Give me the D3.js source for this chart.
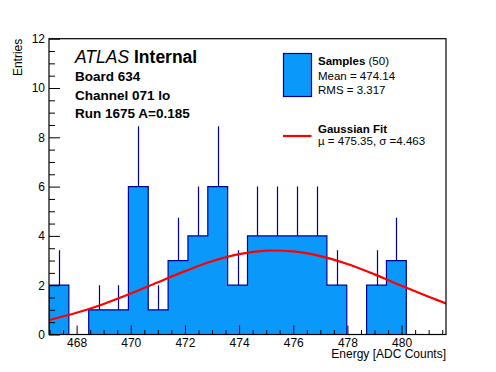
<!DOCTYPE html>
<html>
<head>
<meta charset="utf-8">
<script src="https://d3js.org/d3.v7.min.js"></script>
<style>
  body { margin: 0; background: #fff; }
  svg { display: block; font-family: "Liberation Sans", Arial, sans-serif; }
</style>
</head>
<body>
<svg width="496" height="372"></svg>
<script>
// histogram: 20 bins between xMin and xMax
var xMin = 466.98;
var xMax = 481.64;
var counts = [2, 0, 1, 1, 6, 1, 3, 4, 6, 2, 4, 4, 4, 4, 2, 0, 2, 3, 0, 0];

// gaussian fit
var fitX = [467, 468, 469, 470, 471, 472, 473, 474, 475, 476, 477, 478, 479, 480, 481, 481.64];
var fitY = [0.59, 0.88, 1.24, 1.66, 2.12, 2.57, 2.97, 3.26, 3.40, 3.37, 3.18, 2.86, 2.44, 1.98, 1.53, 1.26];

var xMajor = [468, 470, 472, 474, 476, 478, 480];
var yMajor = [0, 2, 4, 6, 8, 10, 12];

var infoLines = ["Board 634", "Channel 071 lo", "Run 1675 A=0.185"];

var fillCol = "#0a99fb";
var lineCol = "#000099";

var svg = d3.select("svg");

// frame edges (note: "top" is reserved on window)
var fLeft = 49, fRight = 446, fTop = 38.7, fBottom = 334.5;

var x = d3.scaleLinear().domain([xMin, xMax]).range([fLeft, fRight]);
var y = d3.scaleLinear().domain([0, 12]).range([fBottom, fTop]);

var binW = (xMax - xMin) / counts.length;
var bins = counts.map(function(c, i) {
  return {lo: xMin + i * binW, hi: xMin + (i + 1) * binW, n: c};
});

svg.append("rect").attr("width", 496).attr("height", 372).attr("fill", "#fff");

svg.append("clipPath").attr("id", "frameClip")
  .append("rect")
  .attr("x", fLeft).attr("y", fTop)
  .attr("width", fRight - fLeft).attr("height", fBottom - fTop);

var plot = svg.append("g").attr("clip-path", "url(#frameClip)");

// error bars (only the upper half shows above the fill)
plot.selectAll("line.err")
  .data(bins.filter(function(d) { return d.n > 0; }))
  .enter().append("line")
  .attr("class", "err")
  .attr("x1", function(d) { return Math.round(x((d.lo + d.hi) / 2)) + 0.5; })
  .attr("x2", function(d) { return Math.round(x((d.lo + d.hi) / 2)) + 0.5; })
  .attr("y1", function(d) { return y(d.n); })
  .attr("y2", function(d) { return y(d.n + Math.sqrt(d.n)); })
  .attr("stroke", lineCol)
  .attr("stroke-width", 1.2);

var stepPts = [[xMin, 0]];
bins.forEach(function(b) { stepPts.push([b.lo, b.n]); });
stepPts.push([xMax, counts[counts.length - 1]]);
stepPts.push([xMax, 0]);

var area = d3.area()
  .x(function(d) { return x(d[0]); })
  .y0(y(0))
  .y1(function(d) { return y(d[1]); })
  .curve(d3.curveStepAfter);

plot.append("path")
  .attr("d", area(stepPts))
  .attr("fill", fillCol);

var outline = d3.line()
  .x(function(d) { return x(d[0]); })
  .y(function(d) { return y(d[1]); })
  .curve(d3.curveStepAfter);

plot.append("path")
  .attr("d", outline(stepPts))
  .attr("fill", "none")
  .attr("stroke", lineCol)
  .attr("stroke-width", 1.2);

// fit curve
var fitLine = d3.line()
  .x(function(d, i) { return x(fitX[i]); })
  .y(function(d) { return y(d); })
  .curve(d3.curveCatmullRom);

plot.append("path")
  .attr("d", fitLine(fitY))
  .attr("fill", "none")
  .attr("stroke", "#ff0000")
  .attr("stroke-width", 2.2);

// axes
var xMinor = d3.range(467, 481.6, 0.5).filter(function(v) { return xMajor.indexOf(v) < 0; });
var yMinor = d3.range(0.5, 12, 0.5).filter(function(v) { return yMajor.indexOf(v) < 0; });

svg.append("g")
  .attr("transform", "translate(0," + fBottom + ")")
  .call(d3.axisBottom(x).tickValues(xMajor).tickFormat(d3.format("d")).tickSize(-9).tickPadding(4));
svg.append("g")
  .attr("transform", "translate(0," + fBottom + ")")
  .call(d3.axisBottom(x).tickValues(xMinor).tickFormat("").tickSize(-4.5));

svg.append("g")
  .attr("transform", "translate(" + fLeft + ",0)")
  .call(d3.axisLeft(y).tickValues(yMajor).tickFormat(d3.format("d")).tickSize(-11).tickPadding(4));
svg.append("g")
  .attr("transform", "translate(" + fLeft + ",0)")
  .call(d3.axisLeft(y).tickValues(yMinor).tickFormat("").tickSize(-6));

svg.selectAll(".domain").remove();
svg.selectAll(".tick line").attr("stroke", "#000").attr("stroke-width", 1);
svg.selectAll(".tick text").attr("font-size", 12).attr("fill", "#000")
  .attr("font-family", "Liberation Sans, Arial, sans-serif");

svg.append("rect")
  .attr("x", fLeft).attr("y", fTop)
  .attr("width", fRight - fLeft).attr("height", fBottom - fTop)
  .attr("fill", "none")
  .attr("stroke", "#000")
  .attr("stroke-width", 1.2);

// axis titles
svg.append("text")
  .attr("transform", "translate(22," + fTop + ") rotate(-90)")
  .attr("text-anchor", "end")
  .attr("font-size", 12)
  .text("Entries");

svg.append("text")
  .attr("x", fRight).attr("y", 358)
  .attr("text-anchor", "end")
  .attr("font-size", 12)
  .text("Energy [ADC Counts]");

// ATLAS label block
var atlas = svg.append("text").attr("x", 75).attr("y", 63).attr("font-size", 17.5);
atlas.append("tspan").attr("font-style", "italic").text("ATLAS");
atlas.append("tspan").attr("font-weight", "bold").text(" Internal");

svg.selectAll("text.info")
  .data(infoLines)
  .enter().append("text")
  .attr("class", "info")
  .attr("x", 75)
  .attr("y", function(d, i) { return 81 + i * 18.6; })
  .attr("font-size", 13.5)
  .attr("font-weight", "bold")
  .text(function(d) { return d; });

// legend
var leg = svg.append("g").attr("font-size", 11.5);
leg.append("rect")
  .attr("x", 283.5).attr("y", 53.5)
  .attr("width", 28).attr("height", 43)
  .attr("fill", fillCol)
  .attr("stroke", lineCol)
  .attr("stroke-width", 1.2);

var t1 = leg.append("text").attr("x", 318).attr("y", 65);
t1.append("tspan").attr("font-weight", "bold").text("Samples");
t1.append("tspan").text(" (50)");
leg.append("text").attr("x", 318).attr("y", 80).text("Mean = 474.14");
leg.append("text").attr("x", 318).attr("y", 94).text("RMS = 3.317");

leg.append("line")
  .attr("x1", 283).attr("x2", 311.5)
  .attr("y1", 136).attr("y2", 136)
  .attr("stroke", "#ff0000")
  .attr("stroke-width", 2.2);
leg.append("text").attr("x", 318).attr("y", 132.5).attr("font-weight", "bold").text("Gaussian Fit");
leg.append("text").attr("x", 318).attr("y", 144.5).text("\u00b5 = 475.35, \u03c3 =4.463");
</script>
</body>
</html>
